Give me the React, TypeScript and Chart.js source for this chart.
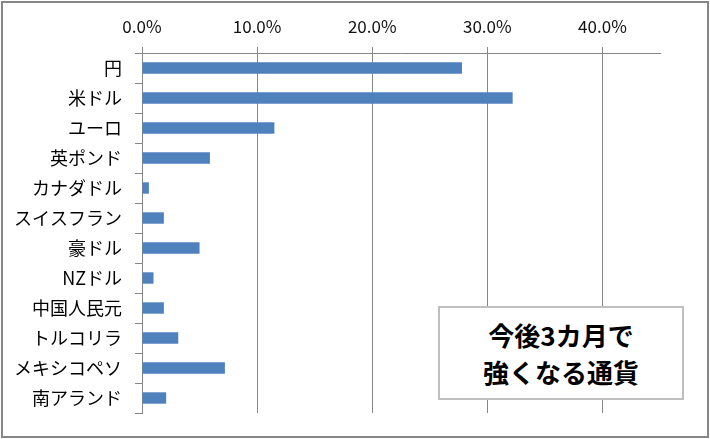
import React, { useEffect, useRef } from "react";
import Chart from "chart.js/auto";

const categories = [
  "円",
  "米ドル",
  "ユーロ",
  "英ポンド",
  "カナダドル",
  "スイスフラン",
  "豪ドル",
  "NZドル",
  "中国人民元",
  "トルコリラ",
  "メキシコペソ",
  "南アランド",
];
const shares = [27.8, 32.2, 11.5, 5.9, 0.6, 1.9, 5.0, 1.0, 1.9, 3.15, 7.2, 2.1];
const tickValues = [0, 10, 20, 30, 40];
const axisMax = 45;
const boxLines = ["今後3カ月で", "強くなる通貨"];

const FONT = '"Noto Sans CJK JP", "Noto Sans", sans-serif';

export default function App() {
  const canvasRef = useRef<HTMLCanvasElement | null>(null);
  const chartRef = useRef<Chart<"bar"> | null>(null);

  useEffect(() => {
    if (!canvasRef.current) return;

    chartRef.current = new Chart(canvasRef.current, {
      type: "bar",
      data: {
        labels: categories,
        datasets: [
          {
            data: shares,
            backgroundColor: "#4f81bd",
            barPercentage: 0.38,
            categoryPercentage: 1,
          },
        ],
      },
      options: {
        indexAxis: "y",
        responsive: true,
        maintainAspectRatio: false,
        animation: false,
        layout: { padding: { left: 0, top: 0, right: 50, bottom: 26 } },
        plugins: {
          legend: { display: false },
          tooltip: { enabled: false },
        },
        scales: {
          x: {
            position: "top",
            min: 0,
            max: axisMax,
            afterBuildTicks: (scale) => {
              scale.ticks = tickValues.map((v) => ({ value: v }));
            },
            afterFit: (scale) => {
              scale.height = 53;
            },
            grid: {
              color: "#868686",
              lineWidth: 1,
              tickLength: 6,
              drawTicks: true,
            },
            border: { display: true, color: "#868686" },
            ticks: {
              padding: 10,
              color: "#111",
              font: { family: FONT, size: 17 },
              callback: (v) => Number(v).toFixed(1) + "%",
            },
          },
          y: {
            afterFit: (scale) => {
              scale.width = 142;
            },
            grid: {
              drawOnChartArea: false,
              drawTicks: true,
              tickLength: 7,
              color: "#868686",
              offset: true,
            },
            border: { display: true, color: "#868686" },
            ticks: {
              padding: 13,
              color: "#000",
              font: { family: FONT, size: 18 },
            },
          },
        },
      },
    });

    return () => {
      chartRef.current?.destroy();
      chartRef.current = null;
    };
  }, []);

  return (
    <div
      style={{
        position: "absolute",
        left: 0,
        top: 0,
        width: 710,
        height: 439,
        background: "#fff",
      }}
    >
      <canvas ref={canvasRef} aria-label="今後3カ月で強くなる通貨" />
      <div
        style={{
          position: "absolute",
          left: 1,
          top: 1,
          width: 708,
          height: 437,
          boxSizing: "border-box",
          border: "2px solid #868686",
          pointerEvents: "none",
        }}
      />
      <div
        style={{
          position: "absolute",
          left: 438,
          top: 306,
          width: 246,
          height: 94,
          boxSizing: "border-box",
          border: "2px solid #bfbfbf",
          background: "#fff",
          display: "flex",
          flexDirection: "column",
          alignItems: "center",
          justifyContent: "center",
          fontFamily: FONT,
          fontWeight: 700,
          fontSize: 26,
          lineHeight: "37px",
          color: "#000",
        }}
      >
        {boxLines.map((line) => (
          <div key={line}>{line}</div>
        ))}
      </div>
    </div>
  );
}
